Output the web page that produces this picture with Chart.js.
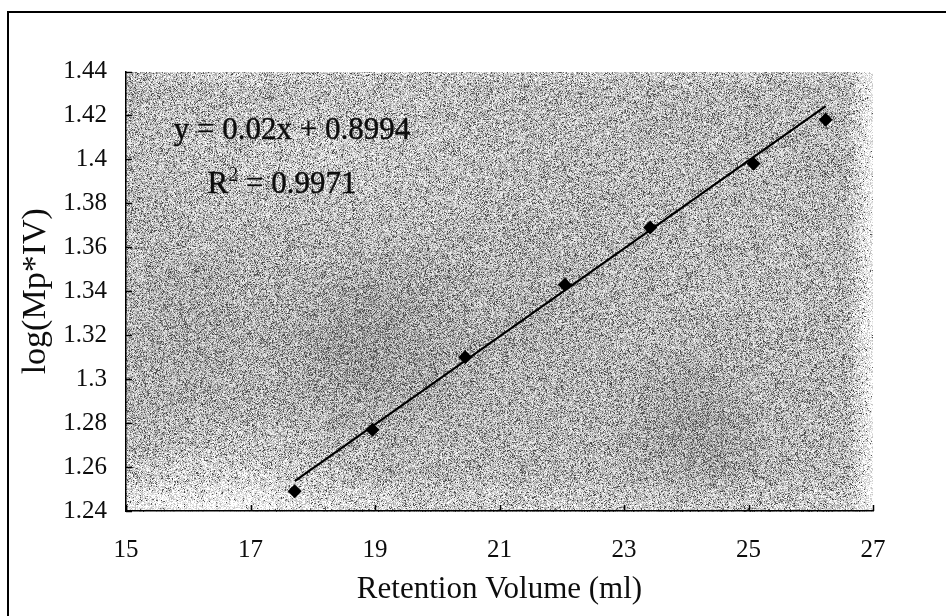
<!DOCTYPE html>
<html>
<head>
<meta charset="utf-8">
<script src="https://cdn.jsdelivr.net/npm/chart.js@4.4.1/dist/chart.umd.min.js"></script>
<style>
  html, body { margin: 0; padding: 0; background: #fff; overflow: hidden; }
  #wrap { position: relative; width: 946px; height: 616px; }
</style>
</head>
<body>
<div id="wrap"><canvas id="calChart"></canvas></div>
<script>
// calibration standards: retention volume vs log(Mp*IV)
const retentionVol = [17.71, 18.96, 20.45, 22.05, 23.42, 25.08, 26.24];
const logMpIV = [1.249, 1.277, 1.310, 1.343, 1.369, 1.398, 1.418];

// linear fit as printed on the chart
const fitSlope = 0.02;
const fitIntercept = 0.8994;
const fitR2 = 0.9971;

const xTickLabels = ['15', '17', '19', '21', '23', '25', '27'];
const yTickLabels = ['1.24', '1.26', '1.28', '1.3', '1.32', '1.34', '1.36', '1.38', '1.4', '1.42', '1.44'];

const SERIF = '"Liberation Serif", "Times New Roman", serif';
const INK = '#0d0d0d';

const points = retentionVol.map((v, i) => ({ x: v, y: logMpIV[i] }));
const xLo = Math.min(...retentionVol);
const xHi = Math.max(...retentionVol);
const trend = [xLo, xHi].map(v => ({ x: v, y: fitSlope * v + fitIntercept }));

// cheap integer hash for the speckled plot background
function hash(x, y) {
  let h = Math.imul(x, 374761393) + Math.imul(y, 668265263);
  h = Math.imul(h ^ (h >>> 13), 1274126177);
  h ^= h >>> 16;
  return (h >>> 0) / 4294967296;
}

function blob(u, v, cu, cv, su, sv) {
  const a = (u - cu) / su, b = (v - cv) / sv;
  return Math.exp(-(a * a + b * b));
}

// darkness over the plot area (u, v in 0..1)
function density(u, v) {
  let d = 0.36;
  d += 0.16 * blob(u, v, 0.33, 0.62, 0.12, 0.18);
  d += 0.15 * blob(u, v, 0.76, 0.80, 0.08, 0.14);
  d += 0.08 * blob(u, v, 0.08, 0.60, 0.08, 0.20);
  d += 0.05 * blob(u, v, 0.55, 0.55, 0.10, 0.20);
  d -= 0.22 * blob(u, v, 0.12, 1.00, 0.16, 0.14);
  d -= 0.08 * blob(u, v, 0.25, 0.18, 0.20, 0.15);
  if (v > 0.92) d -= (v - 0.92) * 1.6;
  if (v < 0.04) d -= (0.04 - v) * 2.0;
  if (u > 0.965) d *= Math.max(0.1, (1 - u) / 0.035);
  return Math.max(0.02, Math.min(0.75, d));
}

let bgCache = null;
function speckle(w, h) {
  if (bgCache && bgCache.width === w && bgCache.height === h) return bgCache;
  const c = document.createElement('canvas');
  c.width = w; c.height = h;
  const g = c.getContext('2d');
  const img = g.createImageData(w, h);
  for (let y = 0; y < h; y++) {
    for (let x = 0; x < w; x++) {
      const d = density(x / w, y / h);
      const r = hash(x, y);
      const r2 = hash(x + 7919, y + 104729);
      // mostly light-grey grain, occasional dark dots
      let val = 250 - d * 150 + (r - 0.5) * 110;
      if (r2 < d * 0.45) val = 60 + r * 60;
      val = Math.max(20, Math.min(255, val));
      const k = (y * w + x) * 4;
      img.data[k] = img.data[k + 1] = img.data[k + 2] = val;
      img.data[k + 3] = 255;
    }
  }
  g.putImageData(img, 0, 0);
  bgCache = c;
  return c;
}

const plotDecor = {
  id: 'plotDecor',
  beforeDraw(chart) {
    const { ctx, chartArea: a } = chart;
    const w = Math.round(a.right - a.left), h = Math.round(a.bottom - a.top);
    ctx.drawImage(speckle(w, h), Math.round(a.left), Math.round(a.top));
  },
  afterDraw(chart) {
    const { ctx, chartArea: a, scales } = chart;
    ctx.save();
    ctx.strokeStyle = '#000';
    ctx.lineWidth = 1.5;
    // inner tick marks
    ctx.beginPath();
    scales.y.ticks.forEach(t => {
      const py = Math.round(scales.y.getPixelForValue(t.value)) + 0.5;
      ctx.moveTo(a.left, py); ctx.lineTo(a.left + 6, py);
    });
    scales.x.ticks.forEach(t => {
      const px = Math.round(scales.x.getPixelForValue(t.value)) + 0.5;
      ctx.moveTo(px, a.bottom); ctx.lineTo(px, a.bottom - 6);
    });
    ctx.stroke();

    // outer frame
    ctx.lineWidth = 2;
    ctx.beginPath();
    ctx.moveTo(8, chart.height);
    ctx.lineTo(8, 12);
    ctx.lineTo(chart.width, 12);
    ctx.stroke();

    // fit equation and R²
    ctx.fillStyle = INK;
    ctx.strokeStyle = INK;
    ctx.lineWidth = 0.4;
    ctx.textBaseline = 'alphabetic';
    ctx.textAlign = 'center';
    ctx.font = '31px ' + SERIF;
    const eq = 'y = ' + fitSlope + 'x + ' + fitIntercept;
    ctx.fillText(eq, a.left + 166, a.top + 67);
    ctx.strokeText(eq, a.left + 166, a.top + 67);

    ctx.textAlign = 'left';
    const big = '31px ' + SERIF, small = '20px ' + SERIF;
    const tail = ' = ' + fitR2;
    ctx.font = big;
    const wR = ctx.measureText('R').width, wT = ctx.measureText(tail).width;
    ctx.font = small;
    const w2 = ctx.measureText('2').width;
    const x0 = a.left + 156 - (wR + w2 + wT) / 2;
    const base = a.top + 121;
    ctx.font = big; ctx.fillText('R', x0, base); ctx.strokeText('R', x0, base);
    ctx.font = small; ctx.fillText('2', x0 + wR, base - 12);
    ctx.font = big; ctx.fillText(tail, x0 + wR + w2, base); ctx.strokeText(tail, x0 + wR + w2, base);
    ctx.restore();
  }
};

new Chart(document.getElementById('calChart'), {
  type: 'scatter',
  data: {
    datasets: [
      {
        label: 'fit',
        type: 'line',
        data: trend,
        borderColor: '#000',
        borderWidth: 2.2,
        pointRadius: 0,
        fill: false,
        order: 2
      },
      {
        label: 'standards',
        data: points,
        pointStyle: 'rectRot',
        pointRadius: 7,
        backgroundColor: '#000',
        borderColor: '#000',
        borderWidth: 0,
        order: 1
      }
    ]
  },
  options: {
    responsive: true,
    maintainAspectRatio: false,
    animation: false,
    layout: { padding: { left: 10, top: 71.5, right: 73, bottom: 0 } },
    plugins: { legend: { display: false }, tooltip: { enabled: false } },
    scales: {
      x: {
        type: 'linear',
        min: 15, max: 27,
        afterBuildTicks: s => { s.ticks = xTickLabels.map(l => ({ value: +l })); },
        afterFit: s => { s.height = 105; },
        grid: { display: false, drawTicks: false },
        border: { display: true, color: '#000', width: 1.5 },
        ticks: {
          padding: 24,
          color: INK,
          font: { family: SERIF, size: 25 },
          callback: (v, i) => xTickLabels[i]
        },
        title: {
          display: true,
          text: 'Retention Volume (ml)',
          color: INK,
          font: { family: SERIF, size: 31 },
          padding: { top: 0, bottom: 8 }
        }
      },
      y: {
        type: 'linear',
        min: 1.24, max: 1.44,
        afterBuildTicks: s => { s.ticks = yTickLabels.map(l => ({ value: +l })); },
        afterFit: s => { s.width = 116; },
        grid: { display: false, drawTicks: false },
        border: { display: true, color: '#000', width: 1.5 },
        ticks: {
          padding: 19,
          color: INK,
          font: { family: SERIF, size: 25 },
          callback: (v, i) => yTickLabels[i]
        },
        title: {
          display: true,
          text: 'log(Mp*IV)',
          color: INK,
          font: { family: SERIF, size: 34 },
          padding: { top: 6, bottom: 0 }
        }
      }
    }
  },
  plugins: [plotDecor]
});
</script>
</body>
</html>
